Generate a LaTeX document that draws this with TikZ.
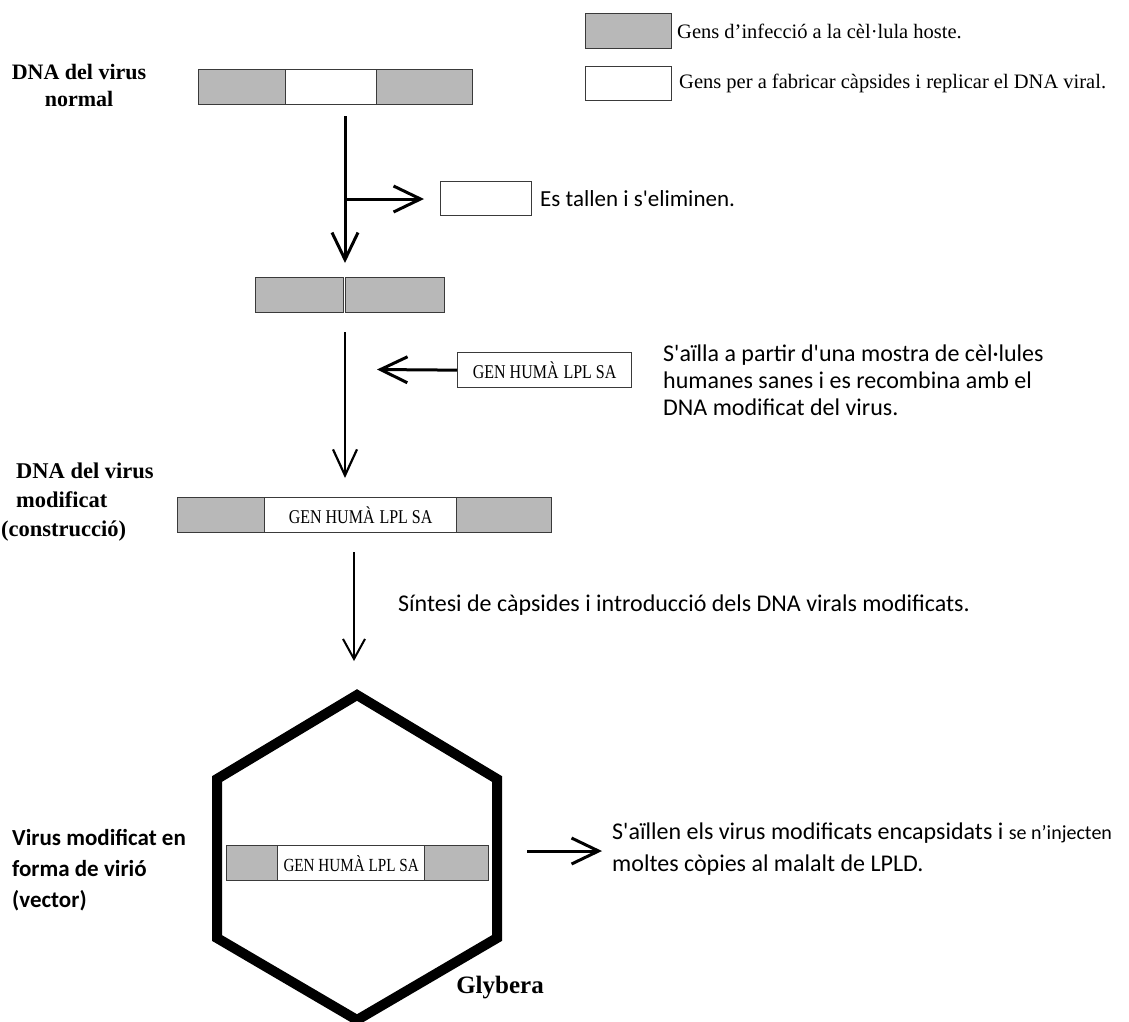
\documentclass[tikz,border=0pt]{standalone}
\usepackage{fontspec}
\setmainfont{Liberation Serif}
\newfontfamily\sansf{Carlito}
\newfontfamily\genfont[FakeStretch=0.82]{Liberation Serif}
\usetikzlibrary{arrows.meta}
\definecolor{segGray}{HTML}{B8B8B8}
\definecolor{segEdge}{HTML}{3A3A3A}
\begin{document}
\begin{tikzpicture}[x=1pt,y=-1pt,
  seg/.style={draw=segEdge, line width=1.3pt, minimum height=35pt, inner sep=0pt, anchor=north west},
  gseg/.style={seg, fill=segGray},
  wseg/.style={seg, fill=white},
  legtxt/.style={font=\fontsize{20.5pt}{24pt}\selectfont, inner sep=0pt, anchor=west},
  sanstxt/.style={font=\sansf\fontsize{24pt}{27pt}\selectfont, inner sep=0pt, anchor=west, align=left},
  boldlbl/.style={font=\bfseries\fontsize{22pt}{27pt}\selectfont, inner sep=0pt},
  gentxt/.style={font=\genfont\fontsize{19.5pt}{22pt}\selectfont},
  bigarr/.style={line width=3pt, -{Straight Barb[length=27pt,width=26pt]}},
  thinarr/.style={line width=2.2pt, -{Straight Barb[length=26pt,width=24pt]}},
  smallarr/.style={line width=2pt, -{Straight Barb[length=20pt,width=22pt]}},
  hexline/.style={line width=10pt, line join=miter}
]
\useasboundingbox (0,0) rectangle (1129,1021);
\fill[white] (0,0) rectangle (1129,1021);
\clip (0,0) rectangle (1129,1021);

% legend
\node[gseg, minimum width=86pt] (lg) at (585,13) {};
\node[wseg, minimum width=86pt, minimum height=34pt] (lw) at (585,66) {};
\node[legtxt] (lgt) at (677,31) {Gens d’infecció a la cèl·lula hoste.};
\node[legtxt] (lwt) at (679,83) {Gens per a fabricar càpsides i replicar el DNA viral.};

% normal virus DNA
\node[boldlbl, align=center] (l1) at (79,85) {DNA del virus\\normal};
\node[gseg, minimum width=87pt] (b1a) at (198,69) {};
\node[wseg, minimum width=91pt] (b1b) at (285,69) {};
\node[gseg, minimum width=96pt] (b1c) at (376,69) {};

\coordinate (a1s) at (345,116);
\coordinate (a1e) at (345,263);
\draw[bigarr] (a1s) -- (a1e);
\coordinate (a2s) at (345,199);
\coordinate (a2e) at (424,199);
\draw[bigarr] (a2s) -- (a2e);
\node[wseg, minimum width=91pt, minimum height=34pt] (rem) at (440,181) {};
\node[sanstxt, font=\sansf\fontsize{23pt}{27pt}\selectfont] (remt) at (540,199) {Es tallen i s'eliminen.};

% cut DNA
\node[gseg, minimum width=88pt] (b2a) at (255,277) {};
\node[gseg, minimum width=99pt] (b2b) at (345,277) {};

\coordinate (a3s) at (345,332);
\coordinate (a3e) at (345,478);
\draw[thinarr] (a3s) -- (a3e);

\node[seg, fill=white, minimum width=174pt, gentxt] (gen) at (457,352) {GEN HUMÀ\hspace{5pt}LPL SA};
\coordinate (a4e) at (377,369.5);
\draw[bigarr] (gen.west) -- (a4e);
\node[sanstxt] (gent) at (663,380) {S'aïlla a partir d'una mostra de cèl·lules\\humanes sanes i es recombina amb el\\DNA modificat del virus.};

% construction
\node[boldlbl, align=left, anchor=west, font=\bfseries\fontsize{22.5pt}{29pt}\selectfont] (l2) at (1,502) {\hspace*{15pt}DNA del virus\\\hspace*{15pt}modificat\\(construcció)};
\node[gseg, minimum width=87pt] (c1) at (177,497) {};
\node[wseg, minimum width=192pt, gentxt] (c2) at (264,497) {GEN HUMÀ\hspace{5pt}LPL SA};
\node[gseg, minimum width=95pt] (c3) at (456,497) {};

\coordinate (a5s) at (354,552);
\coordinate (a5e) at (354,661);
\draw[smallarr] (a5s) -- (a5e);
\node[sanstxt] (synt) at (398,605) {Síntesi de càpsides i introducció dels DNA virals modificats.};

% virion
\draw[hexline] (357,695) -- (497,779) -- (497,938) -- (357,1020) -- (217,938) -- (217,779) -- cycle;
\node[gseg, minimum width=51pt] (h1) at (226,845) {};
\node[wseg, minimum width=147pt, gentxt, font=\genfont\fontsize{18.5pt}{22pt}\selectfont] (h2) at (277,845) {GEN HUMÀ LPL SA};
\node[gseg, minimum width=64pt] (h3) at (424,845) {};
\node[font=\bfseries\fontsize{25pt}{30pt}\selectfont, inner sep=0pt] (gly) at (500,988) {Glybera};

\node[sanstxt, font=\sansf\bfseries\fontsize{23pt}{31pt}\selectfont] (l3) at (12,870) {Virus modificat en\\forma de virió\\(vector)};

\coordinate (a6s) at (527,851);
\coordinate (a6e) at (602,851);
\draw[bigarr] (a6s) -- (a6e);
\node[sanstxt, font=\sansf\fontsize{24pt}{32pt}\selectfont] (fin) at (612,849) {S'aïllen els virus modificats encapsidats i {\fontsize{20pt}{20pt}\selectfont se n’injecten}\\moltes còpies al malalt de LPLD.};
\end{tikzpicture}
\end{document}
